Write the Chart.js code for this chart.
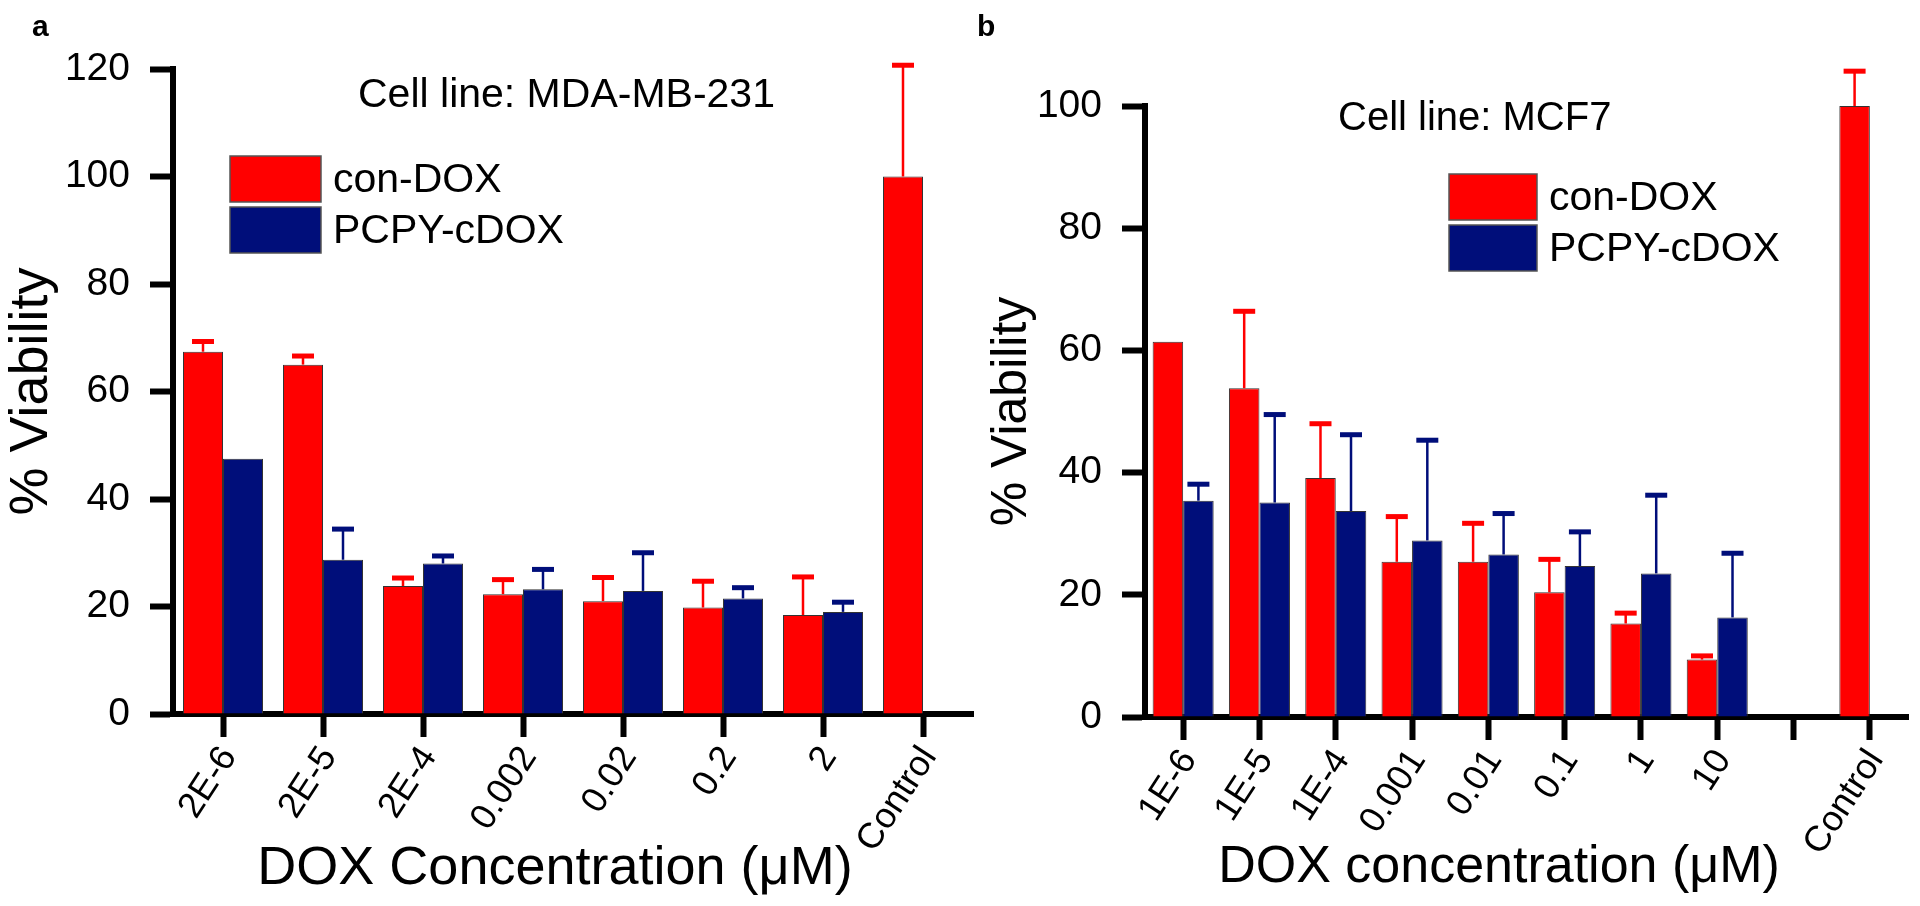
<!DOCTYPE html>
<html>
<head>
<meta charset="utf-8">
<script src="https://cdn.jsdelivr.net/npm/chart.js@4.4.1/dist/chart.umd.min.js"></script>
<style>
  html, body { margin: 0; padding: 0; background: #fff; }
  body { width: 1920px; height: 906px; position: relative; overflow: hidden; }
  .panel { position: absolute; top: 0; height: 906px; }
  #panelA { left: 0; width: 985px; }
  #panelB { left: 970px; width: 950px; }
</style>
</head>
<body>
<div class="panel" id="panelA"><canvas id="chartA"></canvas></div>
<div class="panel" id="panelB"><canvas id="chartB"></canvas></div>
<script>
// panel a - MDA-MB-231
const labelsA = ['2E-6', '2E-5', '2E-4', '0.002', '0.02', '0.2', '2', 'Control'];
const conDoxA = [67.4, 65.0, 23.8, 22.3, 21.0, 19.8, 18.4, 100];
const conDoxErrA = [1.9, 1.6, 1.5, 2.7, 4.4, 4.9, 7.1, 20.7];
const pcpyA = [47.5, 28.7, 28.0, 23.2, 22.9, 21.5, 19.0, null];
const pcpyErrA = [0, 5.7, 1.4, 3.7, 7.1, 2.0, 1.8, null];

// panel b - MCF7 (empty slot before Control)
const labelsB = ['1E-6', '1E-5', '1E-4', '0.001', '0.01', '0.1', '1', '10', '', 'Control'];
const conDoxB = [61.4, 53.8, 39.1, 25.4, 25.4, 20.4, 15.3, 9.4, null, 100];
const conDoxErrB = [0, 12.6, 8.9, 7.4, 6.3, 5.4, 1.7, 0.6, null, 5.7];
const pcpyB = [35.4, 35.1, 33.7, 28.9, 26.6, 24.7, 23.5, 16.3, null, null];
const pcpyErrB = [2.7, 14.4, 12.5, 16.4, 6.7, 5.6, 12.8, 10.5, null, null];

const RED = '#ff0000';
const NAVY = '#000e7a';
const FONT = "'Liberation Sans', Arial, sans-serif";

Chart.defaults.font.family = FONT;
Chart.defaults.color = '#000';

// upper error bars, drawn from the bar elements
const errorBars = {
  id: 'errorBars',
  afterDatasetsDraw(chart) {
    const ctx = chart.ctx;
    const y = chart.scales.y;
    chart.data.datasets.forEach((ds, i) => {
      chart.getDatasetMeta(i).data.forEach((bar, j) => {
        const v = ds.data[j], e = ds.errors[j];
        if (v == null || !e) return;
        const top = y.getPixelForValue(v + e);
        ctx.save();
        ctx.strokeStyle = ds.backgroundColor;
        ctx.lineWidth = 2.5;
        ctx.beginPath();
        ctx.moveTo(bar.x, bar.y);
        ctx.lineTo(bar.x, top);
        ctx.stroke();
        ctx.lineWidth = 5;
        ctx.beginPath();
        ctx.moveTo(bar.x - 11, top);
        ctx.lineTo(bar.x + 11, top);
        ctx.stroke();
        ctx.restore();
      });
    });
  }
};

// panel letter, cell line note, legend, x title
const overlay = {
  id: 'overlay',
  afterDraw(chart, args, o) {
    const ctx = chart.ctx;
    ctx.save();
    ctx.fillStyle = '#000';
    ctx.textBaseline = 'alphabetic';
    ctx.textAlign = 'left';
    ctx.font = 'bold 30px ' + FONT;
    ctx.fillText(o.letter, o.letterX, 36);

    ctx.font = o.noteSize + 'px ' + FONT;
    ctx.fillText(o.note, o.noteX, o.noteY);

    ctx.font = '41px ' + FONT;
    ctx.textBaseline = 'middle';
    chart.data.datasets.forEach((ds, i) => {
      const top = o.legendY + i * 51;
      ctx.fillStyle = ds.backgroundColor;
      ctx.fillRect(o.legendX, top, o.boxW, 46);
      ctx.strokeStyle = '#555';
      ctx.lineWidth = 1.5;
      ctx.strokeRect(o.legendX, top, o.boxW, 46);
      ctx.fillStyle = '#000';
      ctx.fillText(ds.label, o.legendX + o.boxW + 12, top + 25);
    });

    ctx.textAlign = 'center';
    ctx.textBaseline = 'alphabetic';
    ctx.font = o.xTitleSize + 'px ' + FONT;
    ctx.fillText(o.xTitle, o.xTitleX, o.xTitleY);
    ctx.restore();
  }
};

function makeChart(id, labels, red, redErr, blue, blueErr, s) {
  return new Chart(document.getElementById(id), {
    type: 'bar',
    data: {
      labels: labels,
      datasets: [
        { label: 'con-DOX', data: red, errors: redErr, backgroundColor: RED },
        { label: 'PCPY-cDOX', data: blue, errors: blueErr, backgroundColor: NAVY }
      ]
    },
    options: {
      responsive: true,
      maintainAspectRatio: false,
      animation: false,
      layout: { padding: { top: s.top, right: 12, left: 0, bottom: 0 } },
      datasets: {
        bar: { barPercentage: 1, categoryPercentage: 0.8, borderWidth: 1, borderColor: '#333' }
      },
      plugins: {
        legend: { display: false },
        tooltip: { enabled: false },
        overlay: s.overlay
      },
      scales: {
        x: {
          z: 1,
          offset: true,
          grid: { offset: false, drawOnChartArea: false, drawTicks: true, tickLength: 23, tickWidth: 6, tickColor: '#000' },
          border: { display: true, color: '#000', width: 6 },
          ticks: { autoSkip: false, minRotation: 57, maxRotation: 57, padding: 2, labelOffset: 6, font: { size: 36 } },
          afterFit: (sc) => { sc.height = s.xHeight; }
        },
        y: {
          z: 1,
          min: 0,
          max: s.max,
          ticks: { stepSize: 20, padding: 20, font: { size: 39 } },
          grid: { drawOnChartArea: false, drawTicks: true, tickLength: 23, tickWidth: 6, tickColor: '#000' },
          border: { display: true, color: '#000', width: 6 },
          title: { display: true, text: '% Viability', font: { size: s.yTitleSize }, padding: { top: s.yTitlePad, bottom: 0 } },
          afterFit: (sc) => { sc.width = s.yWidth; }
        }
      }
    },
    plugins: [errorBars, overlay]
  });
}

makeChart('chartA', labelsA, conDoxA, conDoxErrA, pcpyA, pcpyErrA, {
  top: 69, max: 120, xHeight: 192, yWidth: 173, yTitleSize: 54, yTitlePad: 0,
  overlay: {
    letter: 'a', letterX: 32,
    note: 'Cell line: MDA-MB-231', noteSize: 41, noteX: 358, noteY: 107,
    legendX: 230, legendY: 156, boxW: 91,
    xTitle: 'DOX Concentration (μM)', xTitleSize: 54, xTitleX: 555, xTitleY: 884
  }
});

makeChart('chartB', labelsB, conDoxB, conDoxErrB, pcpyB, pcpyErrB, {
  top: 106, max: 100, xHeight: 189, yWidth: 175, yTitleSize: 50, yTitlePad: 12,
  overlay: {
    letter: 'b', letterX: 7,
    note: 'Cell line: MCF7', noteSize: 40, noteX: 368, noteY: 130,
    legendX: 479, legendY: 174, boxW: 88,
    xTitle: 'DOX concentration (μM)', xTitleSize: 52, xTitleX: 529, xTitleY: 882
  }
});
</script>
</body>
</html>
